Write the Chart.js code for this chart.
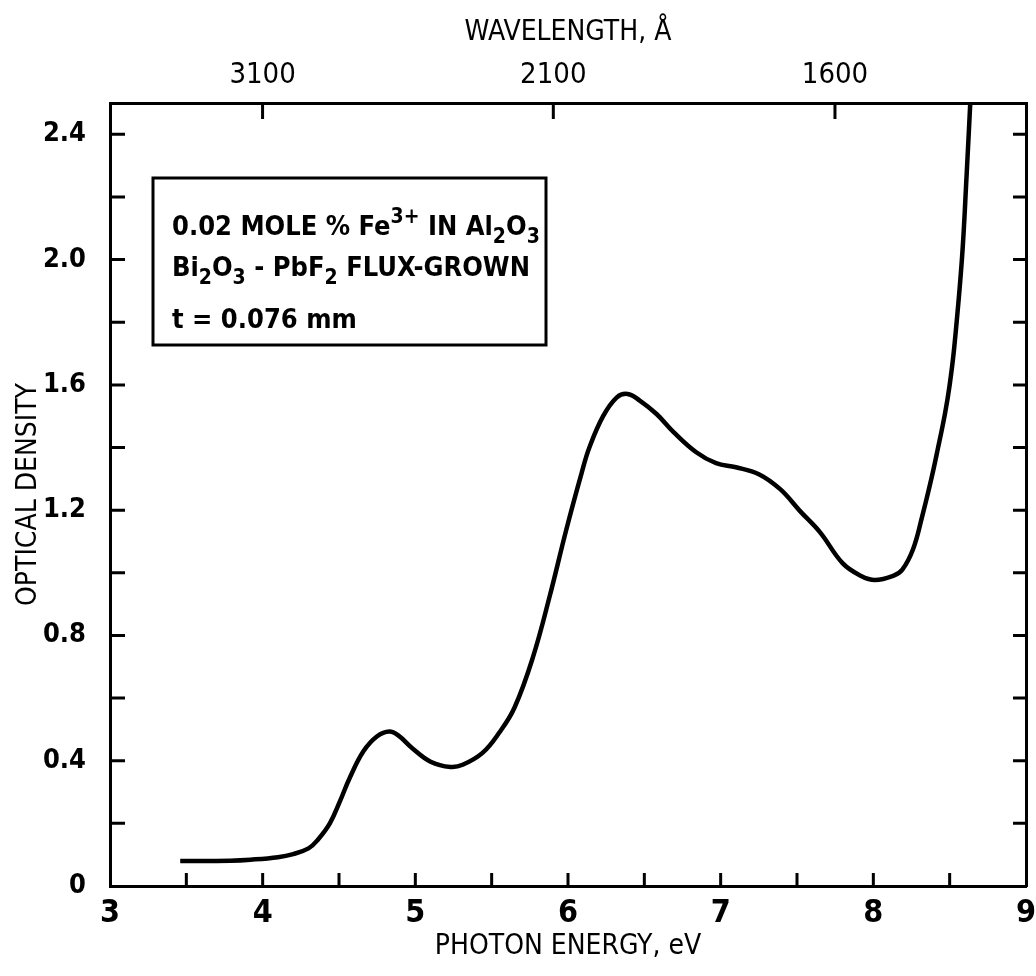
<!DOCTYPE html>
<html>
<head>
<meta charset="utf-8">
<script src="https://cdn.jsdelivr.net/npm/chart.js@4.4.0/dist/chart.umd.min.js"></script>
<style>
  body { margin: 0; background: #fff; }
  #wrap { width: 1036px; height: 976px; }
</style>
</head>
<body>
<div id="wrap"><canvas id="myChart"></canvas></div>
<script>
// photon energy (eV) and optical density
const energy = [3.46, 3.79, 3.92, 4.10, 4.20, 4.30, 4.36, 4.44, 4.51, 4.57, 4.66, 4.75, 4.83, 4.89, 4.98, 5.10,
  5.23, 5.31, 5.44, 5.55, 5.65, 5.77, 5.88, 5.99, 6.09, 6.14, 6.23, 6.32, 6.39, 6.47, 6.58, 6.69,
  6.84, 6.97, 7.10, 7.25, 7.39, 7.52, 7.65, 7.80, 7.92, 8.01, 8.13, 8.19, 8.26, 8.32, 8.38, 8.42,
  8.47, 8.50, 8.53, 8.58, 8.61, 8.64];
const density = [0.08, 0.081, 0.084, 0.092, 0.102, 0.12, 0.147, 0.20, 0.275, 0.345, 0.43, 0.478, 0.493, 0.48, 0.44, 0.397,
  0.38, 0.387, 0.425, 0.49, 0.57, 0.73, 0.925, 1.14, 1.32, 1.40, 1.50, 1.56, 1.571, 1.55, 1.507, 1.45,
  1.385, 1.35, 1.337, 1.315, 1.267, 1.197, 1.13, 1.03, 0.99, 0.977, 0.99, 1.01, 1.075, 1.18, 1.30, 1.39,
  1.51, 1.60, 1.72, 2.00, 2.26, 2.55];

const xTicks = [3, 3.5, 4, 4.5, 5, 5.5, 6, 6.5, 7, 7.5, 8, 8.5, 9];
const xTickLabels = ['3', '', '4', '', '5', '', '6', '', '7', '', '8', '', '9'];
const yTicks = [0, 0.2, 0.4, 0.6, 0.8, 1.0, 1.2, 1.4, 1.6, 1.8, 2.0, 2.2, 2.4];
const yTickLabels = ['0', '', '0.4', '', '0.8', '', '1.2', '', '1.6', '', '2.0', '', '2.4'];
const wavelengthTicks = [3100, 2100, 1600]; // Angstrom
const HC = 12398; // eV * Angstrom

const FONT = "'DejaVu Sans Condensed', 'DejaVu Sans', sans-serif";

// inward tick marks on all four sides
const tickMarks = {
  id: 'tickMarks',
  afterDraw(chart) {
    const ctx = chart.ctx;
    const a = chart.chartArea;
    const x = chart.scales.x, y = chart.scales.y, top = chart.scales.x2;
    ctx.save();
    ctx.strokeStyle = '#000';
    ctx.lineWidth = 3;
    ctx.beginPath();
    yTicks.forEach(v => {
      if (v === 0) return;
      const py = y.getPixelForValue(v);
      ctx.moveTo(a.left, py); ctx.lineTo(a.left + 15, py);
      ctx.moveTo(a.right, py); ctx.lineTo(a.right - 13, py);
    });
    xTicks.forEach(v => {
      if (v === 3 || v === 9) return;
      const px = x.getPixelForValue(v);
      ctx.moveTo(px, a.bottom); ctx.lineTo(px, a.bottom - 13);
    });
    wavelengthTicks.forEach(l => {
      const px = top.getPixelForValue(HC / l);
      ctx.moveTo(px, a.top); ctx.lineTo(px, a.top + 16);
    });
    ctx.stroke();
    ctx.restore();
  }
};

// boxed sample description
const infoBox = {
  id: 'infoBox',
  afterDraw(chart) {
    const ctx = chart.ctx;
    const a = chart.chartArea;
    const bx = a.left + 43, by = a.top + 75, bw = 393, bh = 167;
    ctx.save();
    ctx.strokeStyle = '#000';
    ctx.lineWidth = 3;
    ctx.strokeRect(bx, by, bw, bh);
    ctx.fillStyle = '#000';
    ctx.textBaseline = 'alphabetic';
    const big = 'bold 27px ' + FONT, small = 'bold 21px ' + FONT;
    const runs = [
      [['0.02 MOLE % Fe', 0, big], ['3+', -12, small], [' IN Al', 0, big], ['2', 8, small], ['O', 0, big], ['3', 8, small]],
      [['Bi', 0, big], ['2', 8, small], ['O', 0, big], ['3', 8, small], [' - PbF', 0, big], ['2', 8, small], [' FLUX-GROWN', 0, big]],
      [['t = 0.076 mm', 0, big]]
    ];
    const baselines = [by + 57, by + 98, by + 150];
    runs.forEach((line, i) => {
      let cx = bx + 19;
      line.forEach(([t, dy, f]) => {
        ctx.font = f;
        ctx.fillText(t, cx, baselines[i] + dy);
        cx += ctx.measureText(t).width;
      });
    });
    ctx.restore();
  }
};

const noSidePad = s => { s.paddingLeft = 0; s.paddingRight = 0; };

const ctx = document.getElementById('myChart').getContext('2d');
const myChart = new Chart(ctx, {
  type: 'line',
  data: {
    datasets: [{
      data: energy.map((e, i) => ({ x: e, y: density[i] })),
      borderColor: '#000',
      borderWidth: 4.5,
      pointRadius: 0,
      fill: false,
      tension: 0.4
    }]
  },
  options: {
    responsive: true,
    maintainAspectRatio: false,
    animation: false,
    layout: { padding: 0 },
    plugins: { legend: { display: false }, tooltip: { enabled: false } },
    scales: {
      x: {
        type: 'linear', position: 'bottom', min: 3, max: 9,
        afterBuildTicks: s => { s.ticks = xTicks.map(v => ({ value: v })); },
        afterFit: s => { s.height = 90; noSidePad(s); },
        grid: { display: false, drawTicks: false },
        border: { display: true, color: '#000', width: 3 },
        ticks: {
          autoSkip: false, maxRotation: 0, padding: 8, color: '#000',
          font: { family: FONT, size: 32, weight: 'bold' },
          callback: (v, i) => xTickLabels[i]
        },
        title: {
          display: true, text: 'PHOTON ENERGY, eV', color: '#000',
          font: { family: FONT, size: 28 }, padding: { top: 0, bottom: 12 }
        }
      },
      x2: {
        type: 'linear', position: 'top', min: 3, max: 9,
        afterBuildTicks: s => { s.ticks = wavelengthTicks.map(l => ({ value: HC / l })); },
        afterFit: s => { s.height = 103; noSidePad(s); },
        grid: { display: false, drawTicks: false },
        border: { display: true, color: '#000', width: 3 },
        ticks: {
          autoSkip: false, maxRotation: 0, padding: 10, color: '#000',
          font: { family: FONT, size: 29 },
          callback: (v, i) => String(wavelengthTicks[i])
        },
        title: {
          display: true, text: 'WAVELENGTH, Å', color: '#000',
          font: { family: FONT, size: 28 }, padding: { top: 16, bottom: 0 }
        }
      },
      y: {
        type: 'linear', position: 'left', min: 0, max: 2.5,
        afterBuildTicks: s => { s.ticks = yTicks.map(v => ({ value: v })); },
        afterFit: s => { s.width = 110; },
        grid: { display: false, drawTicks: false },
        border: { display: true, color: '#000', width: 3 },
        ticks: {
          autoSkip: false, padding: 24, color: '#000',
          font: { family: FONT, size: 27, weight: 'bold' },
          callback: (v, i) => yTickLabels[i]
        },
        title: {
          display: true, text: 'OPTICAL DENSITY', color: '#000',
          font: { family: FONT, size: 28 }, padding: { top: 12, bottom: 0 }
        }
      },
      y2: {
        type: 'linear', position: 'right', min: 0, max: 2.5,
        afterFit: s => { s.width = 10; },
        grid: { display: false, drawTicks: false },
        border: { display: true, color: '#000', width: 3 },
        ticks: { display: false }
      }
    }
  },
  plugins: [tickMarks, infoBox]
});
</script>
</body>
</html>
